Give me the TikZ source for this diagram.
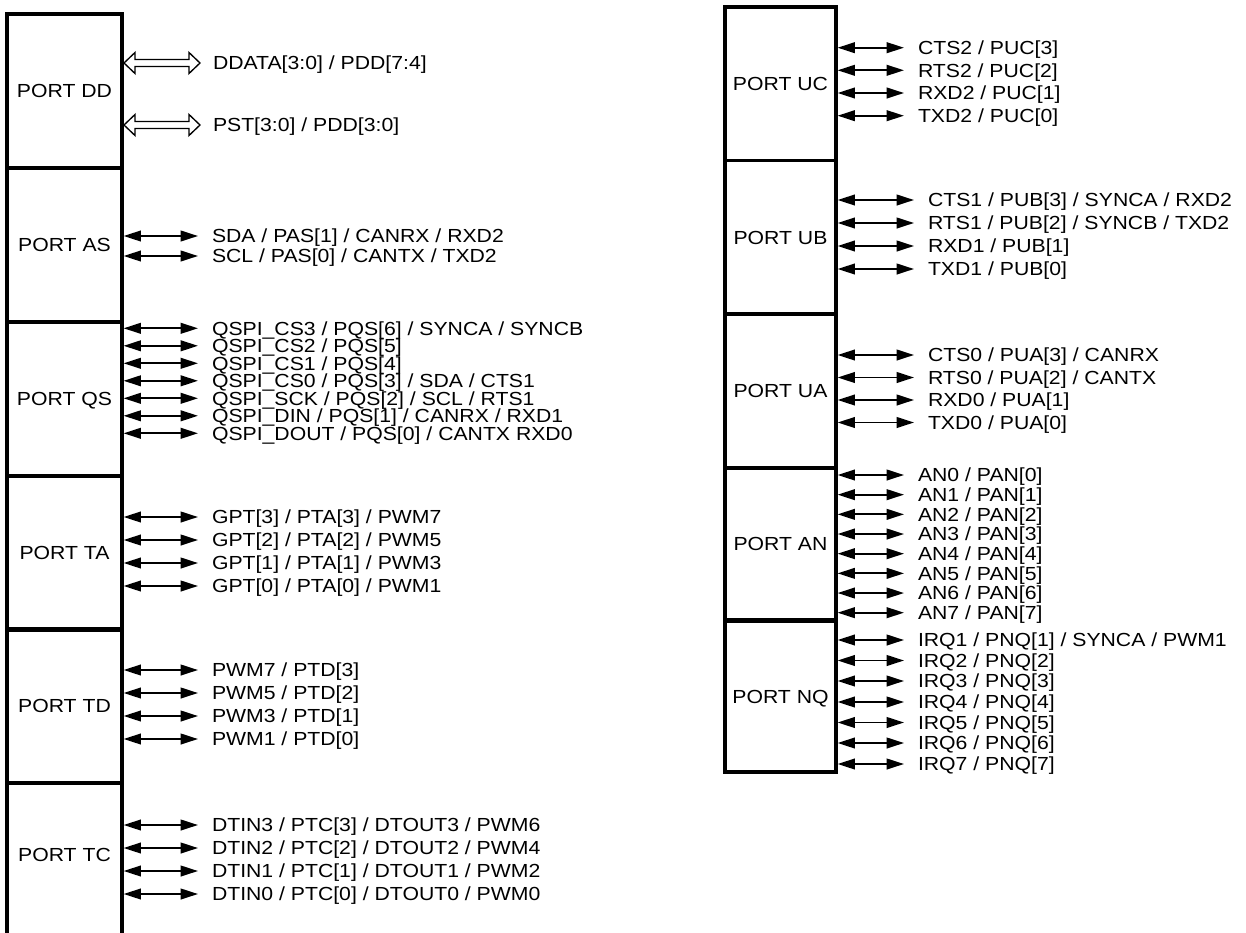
\documentclass[tikz,border=0pt]{standalone}
\usepackage{fontspec}
\setmainfont[FakeStretch=1.12]{Liberation Sans}
\usetikzlibrary{arrows.meta,calc}
\newcommand\fsz{\fontsize{14.2pt}{17pt}\selectfont}
% #1 port node, #2 label name, #3 x, #4 y, #5 text
\newcommand\sig[5]{%
  \node[lbl] (#2) at (#3,#4) {#5};
  \draw[sigarrow] (#1.east |- #2.west) -- ([xshift=-10.5pt]#2.west);}
% hollow double arrow between two named coordinates
\newcommand\hollowarrow[2]{%
  \draw[hollow] (#1) -- ++(11,-10.5) -- ++(0,7) -- ($(#2)+(-11,-3.5)$) -- ++(0,-7)
   -- (#2) -- ++(-11,10.5) -- ++(0,-7) -- ($(#1)+(11,3.5)$) -- ++(0,7) -- cycle;}
\begin{document}
\begin{tikzpicture}[x=0.75pt,y=-0.75pt,
  port/.style={draw, line width=2.6pt, minimum width=86.25pt, inner sep=0pt, outer sep=0pt,
    text height=10.2pt, text depth=0pt, font=\fsz},
  rport/.style={port, minimum width=83.25pt},
  lbl/.style={anchor=west, inner sep=0pt, outer sep=0pt, text height=10.2pt, text depth=0pt, font=\fsz},
  sigarrow/.style={line width=1.4pt, {Triangle[length=13pt,width=8pt]}-{Triangle[length=13pt,width=8pt]}, shorten <=1.2pt},
  hollow/.style={line width=1pt, fill=white, line join=miter},
  boxline/.style={line width=2.6pt}]
\useasboundingbox (0,0) rectangle (1246,932);

% ---------- left column ----------
\node[port, minimum height=115.5pt] (dd) at (64.5,91) {PORT DD};
\node[port, minimum height=115.5pt] (as) at (64.5,245) {PORT AS};
\node[port, minimum height=115.5pt] (qs) at (64.5,399) {PORT QS};
\node[port, minimum height=115.5pt] (ta) at (64.5,553) {PORT TA};
\node[port, minimum height=115.5pt] (td) at (64.5,706) {PORT TD};
\node[port, draw=none, minimum height=108pt] (tc) at (64.5,855) {PORT TC};
\draw[boxline] (tc.north west |- 0,940) -- (tc.north west) -- (tc.north east) -- (tc.north east |- 0,940);

% PORT DD
\node[lbl] (dd1) at (213,63) {DDATA[3:0] / PDD[7:4]};
\node[lbl] (dd2) at (213,125) {PST[3:0] / PDD[3:0]};
\coordinate (dd1a) at ($(dd.east |- dd1.west)+(2,0)$);
\coordinate (dd1b) at ([xshift=-9.75pt]dd1.west);
\coordinate (dd2a) at ($(dd.east |- dd2.west)+(2,0)$);
\coordinate (dd2b) at ([xshift=-9.75pt]dd2.west);
\hollowarrow{dd1a}{dd1b}
\hollowarrow{dd2a}{dd2b}

% PORT AS
\sig{as}{as1}{212}{236}{SDA / PAS[1] / CANRX / RXD2}
\sig{as}{as0}{212}{256}{SCL / PAS[0] / CANTX / TXD2}

% PORT QS
\sig{qs}{qs6}{212}{328.3}{QSPI\_CS3 / PQS[6] / SYNCA / SYNCB}
\sig{qs}{qs5}{212}{345.8}{QSPI\_CS2 / PQS[5]}
\sig{qs}{qs4}{212}{363.3}{QSPI\_CS1 / PQS[4]}
\sig{qs}{qs3}{212}{380.8}{QSPI\_CS0 / PQS[3] / SDA / CTS1}
\sig{qs}{qs2}{212}{398.3}{QSPI\_SCK / PQS[2] / SCL / RTS1}
\sig{qs}{qs1}{212}{415.8}{QSPI\_DIN / PQS[1] / CANRX / RXD1}
\sig{qs}{qs0}{212}{433.3}{QSPI\_DOUT / PQS[0] / CANTX RXD0}

% PORT TA
\sig{ta}{ta3}{212}{517}{GPT[3] / PTA[3] / PWM7}
\sig{ta}{ta2}{212}{540}{GPT[2] / PTA[2] / PWM5}
\sig{ta}{ta1}{212}{563}{GPT[1] / PTA[1] / PWM3}
\sig{ta}{ta0}{212}{586}{GPT[0] / PTA[0] / PWM1}

% PORT TD
\sig{td}{td3}{212}{670}{PWM7 / PTD[3]}
\sig{td}{td2}{212}{693}{PWM5 / PTD[2]}
\sig{td}{td1}{212}{716}{PWM3 / PTD[1]}
\sig{td}{td0}{212}{739}{PWM1 / PTD[0]}

% PORT TC
\sig{tc}{tc3}{212}{825}{DTIN3 / PTC[3] / DTOUT3 / PWM6}
\sig{tc}{tc2}{212}{848}{DTIN2 / PTC[2] / DTOUT2 / PWM4}
\sig{tc}{tc1}{212}{871}{DTIN1 / PTC[1] / DTOUT1 / PWM2}
\sig{tc}{tc0}{212}{894}{DTIN0 / PTC[0] / DTOUT0 / PWM0}

% ---------- right column ----------
\node[rport, minimum height=115.125pt] (uc) at (780.5,83.75) {PORT UC};
\node[rport, minimum height=115.125pt] (ub) at (780.5,237.25) {PORT UB};
\node[rport, minimum height=115.5pt] (ua) at (780.5,391) {PORT UA};
\node[rport, minimum height=114pt] (an) at (780.5,544) {PORT AN};
\node[rport, minimum height=112.875pt] (nq) at (780.5,696.75) {PORT NQ};

% PORT UC
\sig{uc}{uc3}{918}{47.7}{CTS2 / PUC[3]}
\sig{uc}{uc2}{918}{70.3}{RTS2 / PUC[2]}
\sig{uc}{uc1}{918}{93}{RXD2 / PUC[1]}
\sig{uc}{uc0}{918}{115.7}{TXD2 / PUC[0]}

% PORT UB
\sig{ub}{ub3}{928}{200}{CTS1 / PUB[3] / SYNCA / RXD2}
\sig{ub}{ub2}{928}{223}{RTS1 / PUB[2] / SYNCB / TXD2}
\sig{ub}{ub1}{928}{246}{RXD1 / PUB[1]}
\sig{ub}{ub0}{928}{269}{TXD1 / PUB[0]}

% PORT UA
\sig{ua}{ua3}{928}{355}{CTS0 / PUA[3] / CANRX}
\sig{ua}{ua2}{928}{377.5}{RTS0 / PUA[2] / CANTX}
\sig{ua}{ua1}{928}{400}{RXD0 / PUA[1]}
\sig{ua}{ua0}{928}{422.5}{TXD0 / PUA[0]}

% PORT AN
\foreach \i in {0,...,7}{
  \sig{an}{an\i}{918}{475+19.67*\i}{AN\i{} / PAN[\i]}
}

% PORT NQ
\sig{nq}{nq1}{918}{640}{IRQ1 / PNQ[1] / SYNCA / PWM1}
\sig{nq}{nq2}{918}{660.5}{IRQ2 / PNQ[2]}
\sig{nq}{nq3}{918}{681}{IRQ3 / PNQ[3]}
\sig{nq}{nq4}{918}{702}{IRQ4 / PNQ[4]}
\sig{nq}{nq5}{918}{722.5}{IRQ5 / PNQ[5]}
\sig{nq}{nq6}{918}{743}{IRQ6 / PNQ[6]}
\sig{nq}{nq7}{918}{764}{IRQ7 / PNQ[7]}
\end{tikzpicture}
\end{document}
